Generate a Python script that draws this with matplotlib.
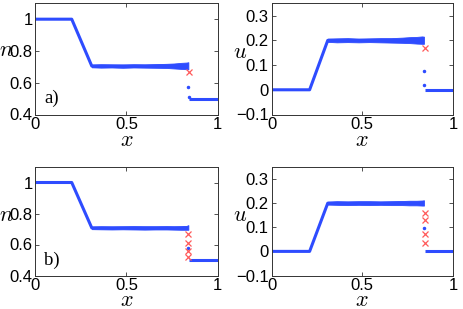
import matplotlib
matplotlib.use("Agg")
import matplotlib.pyplot as plt
import numpy as np

plt.rcParams['mathtext.fontset'] = 'cm'
plt.rcParams['font.family'] = ['Liberation Sans', 'DejaVu Sans']

BLUE = '#2e4cff'
RED = '#ff5a5a'

# ---- data ----
# piecewise profiles (left part up to the shock)
n_prof_x = [0.0, 0.2, 0.31, 0.84]
n_prof_a = [1.0, 1.0, 0.705, 0.705]
n_prof_b = [1.0, 1.0, 0.707, 0.707]
u_prof_x = [0.0, 0.21, 0.31, 0.84]
u_prof_a = [0.0, 0.0, 0.2, 0.2]
u_prof_b = [0.0, 0.0, 0.2, 0.2]
# right state after the shock
right_x = [0.845, 1.0]
n_right = [0.5, 0.5]
u_right = [0.0, 0.0]

# noise envelope on the plateau (lower / upper deviation)
env_x = [0.31, 0.36, 0.42, 0.48, 0.54, 0.60, 0.66, 0.72, 0.76, 0.80, 0.83, 0.84]
n_lo_a = [0.008, 0.010, 0.009, 0.011, 0.009, 0.010, 0.011, 0.012, 0.015, 0.018, 0.020, 0.020]
n_hi_a = [0.009, 0.011, 0.010, 0.009, 0.011, 0.010, 0.012, 0.014, 0.016, 0.020, 0.022, 0.024]
u_lo_a = [0.006, 0.008, 0.007, 0.008, 0.007, 0.008, 0.009, 0.010, 0.011, 0.013, 0.014, 0.014]
u_hi_a = [0.007, 0.008, 0.009, 0.007, 0.008, 0.009, 0.009, 0.011, 0.013, 0.014, 0.016, 0.015]
n_lo_b = [0.008, 0.009, 0.010, 0.009, 0.010, 0.011, 0.010, 0.010, 0.011, 0.012, 0.012, 0.012]
n_hi_b = [0.008, 0.010, 0.009, 0.010, 0.011, 0.010, 0.010, 0.011, 0.010, 0.011, 0.013, 0.018]
u_lo_b = [0.006, 0.007, 0.008, 0.007, 0.008, 0.007, 0.008, 0.008, 0.009, 0.009, 0.010, 0.010]
u_hi_b = [0.006, 0.008, 0.007, 0.008, 0.008, 0.007, 0.008, 0.009, 0.010, 0.010, 0.011, 0.012]

# isolated points at the shock
n_dots_a_x = [0.84, 0.845]; n_dots_a_y = [0.57, 0.51]
n_cross_a_x = [0.845]; n_cross_a_y = [0.665]
u_dots_a_x = [0.84, 0.84]; u_dots_a_y = [0.075, 0.02]
u_cross_a_x = [0.845]; u_cross_a_y = [0.17]

n_dots_b_x = [0.84]; n_dots_b_y = [0.58]
n_cross_b_x = [0.84, 0.84, 0.84, 0.84]; n_cross_b_y = [0.67, 0.612, 0.557, 0.517]
u_dots_b_x = [0.84]; u_dots_b_y = [0.096]
u_cross_b_x = [0.845, 0.845, 0.845, 0.845]; u_cross_b_y = [0.16, 0.129, 0.071, 0.035]

fig = plt.figure(figsize=(4.63, 3.09), dpi=100)
W, H = 463.0, 309.0
def add_ax(x0, x1, y0, y1):
    return fig.add_axes([x0 / W, 1 - y1 / H, (x1 - x0) / W, (y1 - y0) / H])

ax_na = add_ax(35.3, 217.5, 3.3, 114.5)
ax_ua = add_ax(271.5, 453, 3.3, 114.5)
ax_nb = add_ax(35.3, 217.5, 167, 275.5)
ax_ub = add_ax(271.5, 453, 167, 275.5)

def panel(ax, px, py, rx, ry, lo, hi, dx, dy, cx, cy, ylim, yticks, yticklabels,
          ylab, ylab_xy, xlab_y):
    px = np.array(px); py = np.array(py)
    ex = np.array(env_x)
    mean = np.interp(ex, px, py)
    ax.fill_between(ex, mean - np.array(lo), mean + np.array(hi), color=BLUE, lw=0.6,
                    edgecolor=BLUE)
    ax.plot(px, py, color=BLUE, lw=2.2, solid_capstyle='butt')
    ax.plot(rx, ry, color=BLUE, lw=2.2, solid_capstyle='butt')
    ax.plot(dx, dy, '.', color=BLUE, ms=3)
    ax.plot(cx, cy, 'x', color=RED, ms=4, mew=0.9)
    ax.set_xlim(0, 1)
    ax.set_ylim(*ylim)
    ax.set_xticks([0, 0.5, 1])
    ax.set_xticklabels(['0', '0.5', '1'])
    ax.set_yticks(yticks)
    ax.set_yticklabels(yticklabels)
    ax.tick_params(direction='in', length=3, width=0.6, top=True, right=True,
                   labelsize=12, pad=2, color='#333333')
    for s in ax.spines.values():
        s.set_linewidth(0.7)
        s.set_color('#333333')
    ax.set_xlabel('$x$', fontsize=16, va='center')
    ax.xaxis.set_label_coords(0.5, xlab_y)
    ax.set_ylabel(ylab, fontsize=16, rotation=0, va='center', ha='center')
    ax.yaxis.set_label_coords(*ylab_xy)

n_ticks = [0.4, 0.6, 0.8, 1.0]; n_labels = ['0.4', '0.6', '0.8', '1']
u_ticks = [-0.1, 0, 0.1, 0.2, 0.3]; u_labels = ['\u22120.1', '0', '0.1', '0.2', '0.3']

panel(ax_na, n_prof_x, n_prof_a, right_x, n_right, n_lo_a, n_hi_a, n_dots_a_x, n_dots_a_y,
      n_cross_a_x, n_cross_a_y, (0.4, 1.1), n_ticks, n_labels, '$n$', (-0.158, 0.58), -0.235)
panel(ax_ua, u_prof_x, u_prof_a, right_x, u_right, u_lo_a, u_hi_a, u_dots_a_x, u_dots_a_y,
      u_cross_a_x, u_cross_a_y, (-0.1, 0.35), u_ticks, u_labels, '$u$', (-0.174, 0.56), -0.235)
panel(ax_nb, n_prof_x, n_prof_b, right_x, n_right, n_lo_b, n_hi_b, n_dots_b_x, n_dots_b_y,
      n_cross_b_x, n_cross_b_y, (0.4, 1.1), n_ticks, n_labels, '$n$', (-0.158, 0.55), -0.235)
panel(ax_ub, u_prof_x, u_prof_b, right_x, u_right, u_lo_b, u_hi_b, u_dots_b_x, u_dots_b_y,
      u_cross_b_x, u_cross_b_y, (-0.1, 0.35), u_ticks, u_labels, '$u$', (-0.174, 0.55), -0.235)

ax_na.text(0.05, 0.5, 'a)', fontsize=13.5, family='Liberation Serif', va='center', ha='left')
ax_nb.text(0.05, 0.5, 'b)', fontsize=13.5, family='Liberation Serif', va='center', ha='left')

fig.savefig('out.png', dpi=100)
